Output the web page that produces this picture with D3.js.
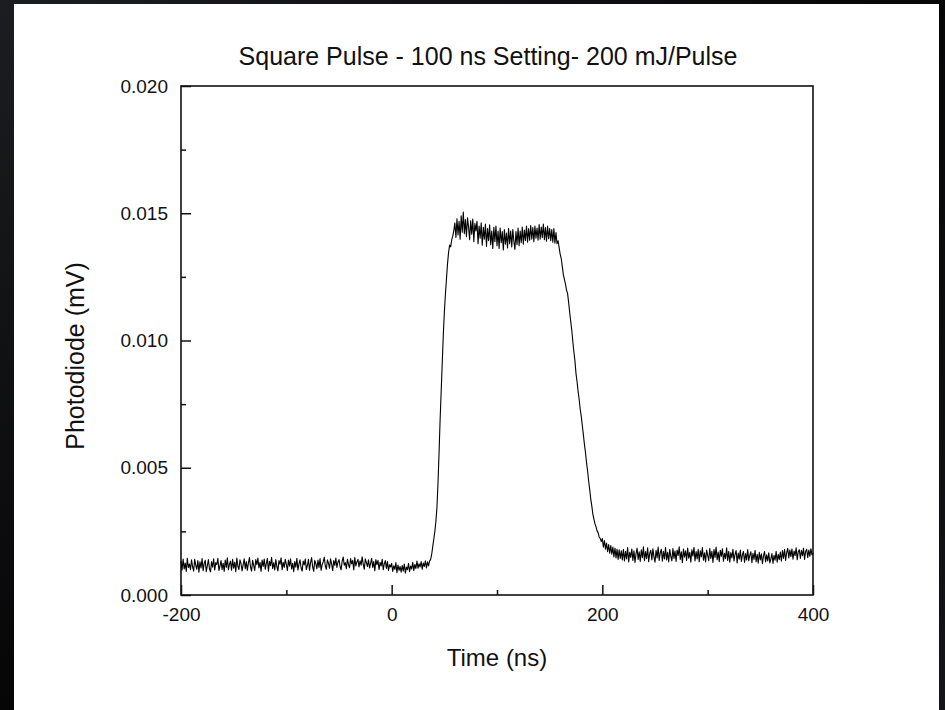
<!DOCTYPE html>
<html lang="en">
<head>
<meta charset="UTF-8" />
<script src="https://d3js.org/d3.v7.min.js"></script>
<title>Square Pulse - 100 ns Setting- 200 mJ/Pulse</title>
<style>
  body { margin: 0; background: #0a0a0c; }
  text { font-family: "Liberation Sans", Arial, sans-serif; fill: #111; }
</style>
</head>
<body>
<script>

// photodiode trace, one reading every 1 ns from -200 ns to 400 ns (mV)
var signal = [
  // -200 .. -1
  0.00133, 0.00097, 0.00141, 0.00102, 0.00126, 0.00093, 0.00144, 0.00108, 0.00122, 0.00099,
  0.00138, 0.00111, 0.00094, 0.00140, 0.00117, 0.00101, 0.00135, 0.00090, 0.00130, 0.00106,
  0.00143, 0.00095, 0.00124, 0.00136, 0.00092, 0.00115, 0.00139, 0.00104, 0.00091, 0.00131,
  0.00109, 0.00142, 0.00098, 0.00127, 0.00120, 0.00144, 0.00096, 0.00114, 0.00135, 0.00100,
  0.00125, 0.00093, 0.00137, 0.00108, 0.00146, 0.00099, 0.00121, 0.00133, 0.00097, 0.00140,
  0.00105, 0.00129, 0.00092, 0.00145, 0.00113, 0.00100, 0.00138, 0.00122, 0.00095, 0.00119,
  0.00142, 0.00103, 0.00131, 0.00097, 0.00126, 0.00147, 0.00110, 0.00094, 0.00136, 0.00116,
  0.00096, 0.00139, 0.00119, 0.00145, 0.00106, 0.00128, 0.00093, 0.00137, 0.00112, 0.00141,
  0.00101, 0.00124, 0.00143, 0.00094, 0.00132, 0.00115, 0.00148, 0.00104, 0.00127, 0.00098,
  0.00139, 0.00112, 0.00095, 0.00135, 0.00121, 0.00146, 0.00099, 0.00129, 0.00108, 0.00140,
  0.00120, 0.00096, 0.00137, 0.00113, 0.00142, 0.00102, 0.00125, 0.00092, 0.00131, 0.00109,
  0.00144, 0.00098, 0.00122, 0.00138, 0.00106, 0.00094, 0.00133, 0.00118, 0.00141, 0.00100,
  0.00116, 0.00140, 0.00097, 0.00127, 0.00147, 0.00110, 0.00093, 0.00136, 0.00123, 0.00103,
  0.00137, 0.00108, 0.00143, 0.00097, 0.00119, 0.00130, 0.00148, 0.00114, 0.00101, 0.00138,
  0.00125, 0.00105, 0.00142, 0.00121, 0.00096, 0.00135, 0.00116, 0.00145, 0.00108, 0.00129,
  0.00139, 0.00112, 0.00099, 0.00133, 0.00149, 0.00117, 0.00127, 0.00103, 0.00141, 0.00120,
  0.00107, 0.00143, 0.00122, 0.00136, 0.00098, 0.00147, 0.00114, 0.00130, 0.00140, 0.00110,
  0.00134, 0.00117, 0.00150, 0.00121, 0.00101, 0.00142, 0.00127, 0.00112, 0.00138, 0.00106,
  0.00124, 0.00144, 0.00108, 0.00131, 0.00095, 0.00139, 0.00119, 0.00136, 0.00100, 0.00128,
  0.00114, 0.00140, 0.00099, 0.00123, 0.00135, 0.00104, 0.00131, 0.00096, 0.00119, 0.00110,
  // 0 .. 39
  0.00124, 0.00093, 0.00115, 0.00101, 0.00127, 0.00088, 0.00118, 0.00097, 0.00112, 0.00090,
  0.00116, 0.00094, 0.00122, 0.00086, 0.00110, 0.00099, 0.00124, 0.00092, 0.00114, 0.00102,
  0.00128, 0.00096, 0.00120, 0.00104, 0.00133, 0.00105, 0.00123, 0.00110, 0.00131, 0.00101,
  0.00126, 0.00112, 0.00134, 0.00106, 0.00130, 0.00114, 0.00133, 0.00140, 0.00160, 0.00190,
  // rise 40 .. 59
  0.00220, 0.00250, 0.00290, 0.00345, 0.00440, 0.00560, 0.00690, 0.00800, 0.00910, 0.01020,
  0.01110, 0.01180, 0.01240, 0.01300, 0.01345, 0.01375, 0.01368, 0.01395, 0.01410, 0.01432,
  // plateau 60 .. 157
  0.01462, 0.01405, 0.01478, 0.01415, 0.01468, 0.01398, 0.01490, 0.01425, 0.01505, 0.01420,
  0.01475, 0.01408, 0.01482, 0.01446, 0.01396, 0.01470, 0.01418, 0.01477, 0.01388, 0.01460,
  0.01430, 0.01468, 0.01380, 0.01450, 0.01402, 0.01462, 0.01374, 0.01445, 0.01398, 0.01458,
  0.01370, 0.01440, 0.01392, 0.01455, 0.01376, 0.01430, 0.01362, 0.01445, 0.01388, 0.01450,
  0.01372, 0.01430, 0.01362, 0.01442, 0.01384, 0.01428, 0.01356, 0.01436, 0.01378, 0.01422,
  0.01364, 0.01440, 0.01380, 0.01430, 0.01368, 0.01436, 0.01390, 0.01358, 0.01428, 0.01376,
  0.01442, 0.01372, 0.01430, 0.01384, 0.01446, 0.01378, 0.01434, 0.01392, 0.01450, 0.01386,
  0.01440, 0.01394, 0.01452, 0.01398, 0.01444, 0.01388, 0.01450, 0.01402, 0.01442, 0.01394,
  0.01456, 0.01398, 0.01446, 0.01404, 0.01458, 0.01396, 0.01444, 0.01390, 0.01450, 0.01400,
  0.01440, 0.01392, 0.01436, 0.01386, 0.01440, 0.01382, 0.01424, 0.01380,
  // fall 158 .. 199
  0.01392, 0.01365, 0.01338, 0.01322, 0.01290, 0.01258, 0.01240, 0.01222, 0.01198, 0.01185,
  0.01150, 0.01110, 0.01075, 0.01040, 0.00995, 0.00955, 0.00920, 0.00870, 0.00838, 0.00800,
  0.00768, 0.00730, 0.00702, 0.00665, 0.00630, 0.00592, 0.00560, 0.00520, 0.00488, 0.00448,
  0.00415, 0.00378, 0.00350, 0.00318, 0.00298, 0.00280, 0.00268, 0.00252, 0.00245, 0.00228,
  0.00222, 0.00210,
  // tail 200 .. 400
  0.00222, 0.00188, 0.00214, 0.00180, 0.00204, 0.00170, 0.00198, 0.00164, 0.00194, 0.00160,
  0.00188, 0.00150, 0.00184, 0.00146, 0.00180, 0.00140, 0.00178, 0.00144, 0.00174, 0.00138,
  0.00180, 0.00134, 0.00172, 0.00142, 0.00186, 0.00130, 0.00168, 0.00148, 0.00181, 0.00136,
  0.00174, 0.00128, 0.00162, 0.00184, 0.00140, 0.00170, 0.00132, 0.00178, 0.00147, 0.00189,
  0.00135, 0.00171, 0.00143, 0.00185, 0.00131, 0.00164, 0.00176, 0.00138, 0.00182, 0.00150,
  0.00129, 0.00176, 0.00146, 0.00188, 0.00136, 0.00166, 0.00180, 0.00133, 0.00172, 0.00142,
  0.00186, 0.00138, 0.00168, 0.00130, 0.00179, 0.00152, 0.00134, 0.00183, 0.00144, 0.00173,
  0.00132, 0.00177, 0.00155, 0.00189, 0.00140, 0.00170, 0.00127, 0.00181, 0.00149, 0.00174,
  0.00136, 0.00184, 0.00145, 0.00168, 0.00129, 0.00178, 0.00153, 0.00187, 0.00134, 0.00171,
  0.00142, 0.00180, 0.00131, 0.00174, 0.00150, 0.00186, 0.00137, 0.00166, 0.00130, 0.00177,
  0.00156, 0.00135, 0.00183, 0.00144, 0.00172, 0.00128, 0.00179, 0.00148, 0.00188, 0.00139,
  0.00169, 0.00131, 0.00176, 0.00152, 0.00182, 0.00133, 0.00164, 0.00143, 0.00185, 0.00136,
  0.00172, 0.00129, 0.00167, 0.00146, 0.00180, 0.00134, 0.00160, 0.00175, 0.00126, 0.00165,
  0.00141, 0.00177, 0.00132, 0.00158, 0.00171, 0.00128, 0.00163, 0.00138, 0.00179, 0.00135,
  0.00156, 0.00170, 0.00127, 0.00164, 0.00140, 0.00176, 0.00131, 0.00160, 0.00125, 0.00168,
  0.00138, 0.00162, 0.00123, 0.00154, 0.00171, 0.00130, 0.00158, 0.00134, 0.00166, 0.00126,
  0.00142, 0.00163, 0.00124, 0.00156, 0.00137, 0.00172, 0.00129, 0.00160, 0.00139, 0.00169,
  0.00133, 0.00175, 0.00144, 0.00180, 0.00136, 0.00166, 0.00183, 0.00146, 0.00177, 0.00151,
  0.00181, 0.00141, 0.00173, 0.00155, 0.00185, 0.00139, 0.00170, 0.00178, 0.00144, 0.00176,
  0.00154, 0.00184, 0.00140, 0.00171, 0.00180, 0.00147, 0.00177, 0.00152, 0.00182, 0.00158,
  0.00164
];
var time = d3.range(-200, 401, 1);   // ns, sampling grid

var xTicks = [-200, 0, 200, 400];
var xMinor = [-100, 100, 300];
var yTicks = [0, 0.005, 0.010, 0.015, 0.020];
var yMinor = [0.0025, 0.0075, 0.0125, 0.0175];

var width = 945, height = 710;
var margin = { left: 181, right: 132, top: 86, bottom: 115 };
var w = width - margin.left - margin.right, h = height - margin.top - margin.bottom;

var svg = d3.select("body").append("svg")
    .attr("width", width)
    .attr("height", height);

// dark backdrop + white sheet
var grad = svg.append("defs").append("linearGradient").attr("id", "bg")
    .attr("x1", 0).attr("y1", 0).attr("x2", 1).attr("y2", 1);
grad.append("stop").attr("offset", "0%").attr("stop-color", "#1c1d20");
grad.append("stop").attr("offset", "50%").attr("stop-color", "#060607");
grad.append("stop").attr("offset", "100%").attr("stop-color", "#141518");
svg.append("rect").attr("width", width).attr("height", height).attr("fill", "url(#bg)");
svg.append("rect").attr("x", 14).attr("y", 4).attr("width", 925).attr("height", 706).attr("fill", "#fff");

var g = svg.append("g").attr("transform", "translate(" + margin.left + "," + margin.top + ")");

var x = d3.scaleLinear().domain([-200, 400]).range([0, w]);
var y = d3.scaleLinear().domain([0, 0.020]).range([h, 0]);

// axes, ticks pointing inward
g.append("g").attr("transform", "translate(0," + h + ")")
    .call(d3.axisBottom(x).tickValues(xTicks).tickSize(-10).tickSizeOuter(0).tickPadding(13)
        .tickFormat(d => String(d)));
g.append("g").attr("transform", "translate(0," + h + ")")
    .call(d3.axisBottom(x).tickValues(xMinor).tickSize(-5).tickSizeOuter(0).tickFormat(""));
g.append("g")
    .call(d3.axisLeft(y).tickValues(yTicks).tickSize(-10).tickSizeOuter(0).tickPadding(13).tickFormat(d3.format(".3f")));
g.append("g")
    .call(d3.axisLeft(y).tickValues(yMinor).tickSize(-5).tickSizeOuter(0).tickFormat(""));

g.selectAll(".domain").remove();
g.selectAll(".tick line").attr("stroke", "#111").attr("stroke-width", 1.5);
g.selectAll(".tick text").style("font-size", "19px").attr("fill", "#111");

// frame
g.append("rect").attr("width", w).attr("height", h)
    .attr("fill", "none").attr("stroke", "#111").attr("stroke-width", 1.6);

// trace
var line = d3.line().x((d, i) => x(time[i])).y(d => y(d));
g.append("path").datum(signal)
    .attr("d", line)
    .attr("fill", "none")
    .attr("stroke", "#000")
    .attr("stroke-width", 1.1)
    .attr("stroke-linejoin", "round");

// titles
svg.append("text").attr("x", 488).attr("y", 65)
    .attr("text-anchor", "middle").style("font-size", "25px")
    .text("Square Pulse - 100 ns Setting- 200 mJ/Pulse");
svg.append("text").attr("x", margin.left + w / 2).attr("y", 666)
    .attr("text-anchor", "middle").style("font-size", "24px")
    .text("Time (ns)");
svg.append("text").attr("transform", "translate(84,356) rotate(-90)")
    .attr("text-anchor", "middle").style("font-size", "25px")
    .text("Photodiode (mV)");

</script>
</body>
</html>
